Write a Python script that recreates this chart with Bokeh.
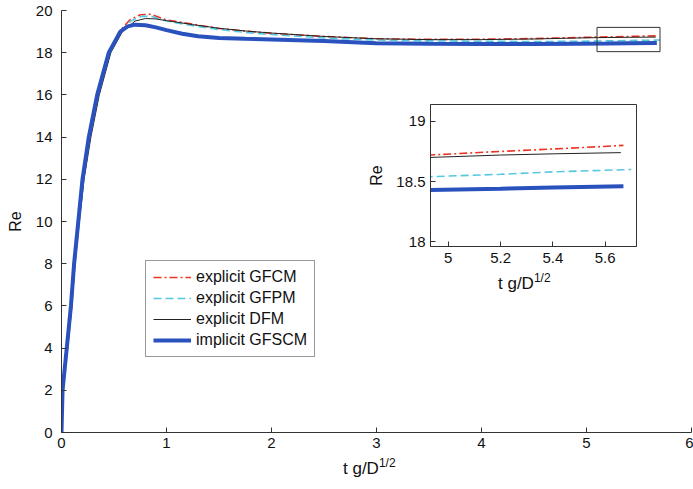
from bokeh.plotting import figure
from bokeh.models import Range1d, FixedTicker, Legend, LegendItem, Div
from bokeh.embed import file_html
from bokeh.resources import INLINE

# ---------------- data ----------------
t_gfcm = [0, 0.01, 0.05, 0.09, 0.12, 0.16, 0.2, 0.26, 0.34, 0.45, 0.55, 0.65, 0.75, 0.85, 1.0,
          1.25, 1.5, 1.75, 2.0, 2.5, 3.0, 3.5, 4.0, 4.5, 4.93, 5.2, 5.4, 5.67]
re_gfcm = [0, 2, 4, 6, 8, 10, 12, 14, 16, 18, 19.0, 19.55, 19.8, 19.82, 19.55,
           19.35, 19.15, 19.02, 18.92, 18.77, 18.66, 18.63, 18.64, 18.67, 18.72, 18.75, 18.77, 18.80]

t_gfpm = [0, 0.01, 0.05, 0.09, 0.12, 0.16, 0.2, 0.26, 0.345, 0.455, 0.56, 0.66, 0.76, 0.86, 1.0,
          1.25, 1.5, 1.75, 2.0, 2.5, 3.0, 3.5, 4.0, 4.5, 4.93, 5.2, 5.4, 5.7]
re_gfpm = [0, 2, 4, 6, 8, 10, 12, 14, 16, 18, 19.0, 19.5, 19.72, 19.72, 19.5,
           19.28, 19.1, 18.96, 18.86, 18.7, 18.6, 18.56, 18.54, 18.53, 18.54, 18.56, 18.58, 18.60]

t_dfm = [0, 0.01, 0.06, 0.1, 0.13, 0.17, 0.215, 0.28, 0.36, 0.47, 0.58, 0.7, 0.8, 0.9, 1.0,
         1.25, 1.5, 1.75, 2.0, 2.5, 3.0, 3.5, 4.0, 4.5, 4.93, 5.2, 5.4, 5.66]
re_dfm = [0, 2, 4, 6, 8, 10, 12, 14, 16, 18, 19.0, 19.5, 19.62, 19.6, 19.52,
          19.33, 19.16, 19.03, 18.93, 18.77, 18.66, 18.62, 18.62, 18.65, 18.70, 18.72, 18.73, 18.74]

t_gfscm = [0, 0.01, 0.05, 0.09, 0.12, 0.16, 0.2, 0.26, 0.34, 0.45, 0.56, 0.63, 0.7, 0.8, 0.9, 1.0,
           1.15, 1.3, 1.5, 1.75, 2.0, 2.5, 3.0, 3.5, 4.0, 4.5, 4.93, 5.2, 5.4, 5.67]
re_gfscm = [0, 2, 4, 6, 8, 10, 12, 14, 16, 18, 19.0, 19.25, 19.33, 19.3, 19.2, 19.07,
            18.9, 18.78, 18.7, 18.66, 18.63, 18.55, 18.45, 18.42, 18.41, 18.41, 18.43, 18.44, 18.45, 18.46]

series_names = ["explicit GFCM", "explicit GFPM", "explicit DFM", "implicit GFSCM"]

main_xticks = [0, 1, 2, 3, 4, 5, 6]
main_yticks = [0, 2, 4, 6, 8, 10, 12, 14, 16, 18, 20]
inset_xticks = [5, 5.2, 5.4, 5.6]
inset_yticks = [18, 18.5, 19]

zoom_box_t = [5.1, 5.7]
zoom_box_re = [18.05, 19.2]

x_label_main = "t g/D"
x_label_sup = "1/2"
y_label = "Re"

# ---------------- styling ----------------
FONT = "Liberation Sans"
AX = "#333333"
styles = [
    dict(line_color="#ee3322", line_width=1.6, line_dash="8 3 2 3"),
    dict(line_color="#55c8e0", line_width=1.6, line_dash="8 4"),
    dict(line_color="#222222", line_width=1.0),
    dict(line_color="#2a52be", line_width=4.0),
]
data = [(t_gfcm, re_gfcm), (t_gfpm, re_gfpm), (t_dfm, re_dfm), (t_gfscm, re_gfscm)]


def style_axis(ax, fs="15px"):
    ax.axis_line_color = AX
    ax.major_tick_line_color = AX
    ax.minor_tick_line_color = None
    ax.major_tick_in = 5
    ax.major_tick_out = 0
    ax.major_label_text_font = FONT
    ax.major_label_text_font_size = fs
    ax.major_label_text_color = "#111111"
    ax.axis_label_text_font = FONT
    ax.axis_label_text_font_style = "normal"
    ax.axis_label_text_font_size = "16px"
    ax.axis_label_text_color = "#111111"


def xlabel_div(left, top):
    html = ('<span style="font-family:\'Liberation Sans\';font-size:17px;color:#111111;'
            'white-space:nowrap;line-height:20px">' + x_label_main +
            '<span style="font-size:12px;position:relative;top:-7px">' + x_label_sup +
            '</span></span>')
    return Div(text=html, width=80, height=22,
               styles={"position": "absolute", "left": f"{left}px", "top": f"{top}px",
                       "margin": "0", "padding": "0"})


# ---------------- main figure ----------------
p = figure(width=693, height=482, output_backend="svg", toolbar_location=None,
           x_range=Range1d(0, 6), y_range=Range1d(0, 20),
           min_border_left=61, min_border_right=2, min_border_top=10, min_border_bottom=50)
p.outline_line_color = None
p.xgrid.visible = False
p.ygrid.visible = False
p.background_fill_color = "white"

p.xaxis.ticker = FixedTicker(ticks=main_xticks)
p.yaxis.ticker = FixedTicker(ticks=main_yticks)
style_axis(p.xaxis[0])
style_axis(p.yaxis[0])
p.xaxis.major_label_standoff = 5
p.yaxis.major_label_standoff = 9
p.yaxis.axis_label = y_label
p.yaxis.axis_label_standoff = 9

renderers = []
for (t, r), st in zip(data, styles):
    renderers.append(p.line(t, r, **st))

p.quad(left=[zoom_box_t[0]], right=[zoom_box_t[1]], bottom=[zoom_box_re[0]], top=[zoom_box_re[1]],
       fill_color=None, line_color=AX, line_width=1)

legend = Legend(items=[LegendItem(label=n, renderers=[r]) for n, r in zip(series_names, renderers)],
                location=(84, 75), border_line_color=AX, border_line_width=1,
                label_text_font=FONT, label_text_font_size="16px", label_text_color="#111111",
                glyph_width=38, glyph_height=18, label_height=18, label_standoff=5,
                spacing=3, padding=7, margin=0, background_fill_color="white", background_fill_alpha=1)
p.add_layout(legend, "center")

# ---------------- inset figure ----------------
inset = figure(width=278, height=196, output_backend="svg", toolbar_location=None,
               x_range=Range1d(4.932, 5.72), y_range=Range1d(17.96, 19.14),
               min_border_left=68, min_border_right=4, min_border_top=4, min_border_bottom=50,
               styles={"position": "absolute", "left": "362px", "top": "100px"})
inset.border_fill_alpha = 0
inset.background_fill_color = "white"
inset.outline_line_color = AX
inset.xgrid.visible = False
inset.ygrid.visible = False
inset.xaxis.ticker = FixedTicker(ticks=inset_xticks)
inset.yaxis.ticker = FixedTicker(ticks=inset_yticks)
style_axis(inset.xaxis[0])
style_axis(inset.yaxis[0])
inset.xaxis.major_label_standoff = 6
inset.yaxis.major_label_standoff = 5
inset.yaxis.axis_label = y_label
inset.yaxis.axis_label_standoff = 8

for (t, r), st in zip(data, styles):
    inset.line(t, r, **st)

main_xlabel = xlabel_div(343, 459)
inset_xlabel = xlabel_div(498, 274)

open("out.html", "w").write(file_html([p, inset, main_xlabel, inset_xlabel], INLINE))
